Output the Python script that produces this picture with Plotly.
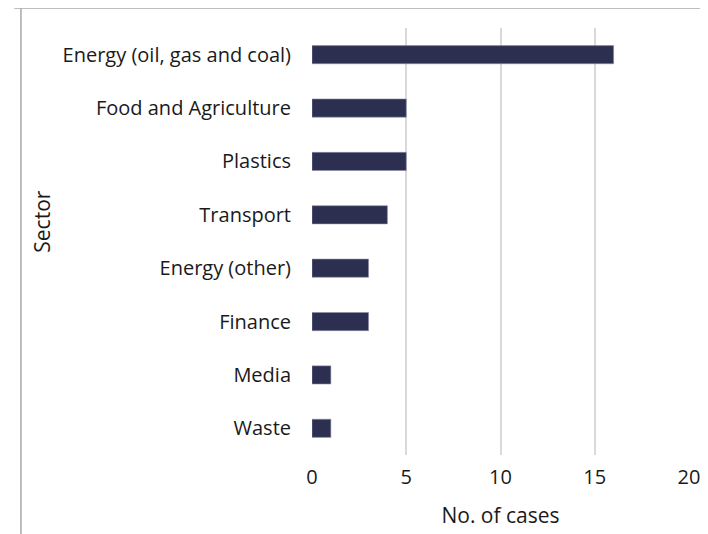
import plotly.graph_objects as go

sectors = ["Energy (oil, gas and coal)", "Food and Agriculture", "Plastics", "Transport",
           "Energy (other)", "Finance", "Media", "Waste"]
cases = [16, 5, 5, 4, 3, 3, 1, 1]
x_ticks = [0, 5, 10, 15, 20]

BAR = "#2d2f50"
GRID = "#d9d9d9"
TEXT = "#1a1a1a"
FONT = "Open Sans"

fig = go.Figure(go.Bar(
    x=cases, y=sectors, orientation="h",
    marker=dict(color=BAR, line=dict(color="#8a8cab", width=0.6)),
    width=0.34,
))

fig.update_layout(
    width=700, height=526,
    margin=dict(l=304, r=19, t=20, b=79),
    paper_bgcolor="white", plot_bgcolor="white",
    font=dict(family=FONT, size=20, color=TEXT),
    showlegend=False,
    xaxis=dict(
        range=[0, 20], tickvals=x_ticks, showgrid=True, gridcolor=GRID, gridwidth=1.5,
        zeroline=False, showline=False, ticks="", ticklabelstandoff=8,
        title=dict(text="No. of cases", font=dict(size=21), standoff=19),
        tickfont=dict(size=20),
        automargin=False,
    ),
    yaxis=dict(
        categoryorder="array", categoryarray=sectors[::-1],
        range=[-0.5, 7.5], showgrid=False, zeroline=False, showline=False,
        ticks="", ticklabelstandoff=20,
        tickfont=dict(size=20),
        automargin=False,
    ),
    annotations=[
        dict(text="Sector", xref="paper", yref="paper", x=-0.716, y=0.5465,
             xanchor="center", yanchor="middle", textangle=-90, showarrow=False,
             font=dict(size=21, color=TEXT, family=FONT)),
    ],
    shapes=[
        dict(type="line", xref="paper", yref="paper", x0=-0.79, x1=1.06, y0=1.047, y1=1.047,
             line=dict(color="#a8a8ad", width=1.5)),
        dict(type="line", xref="paper", yref="paper", x0=-0.772, x1=-0.772, y0=1.047, y1=-0.21,
             line=dict(color="#a8a8ad", width=1.5)),
    ],
)

fig.write_html("out.html")
